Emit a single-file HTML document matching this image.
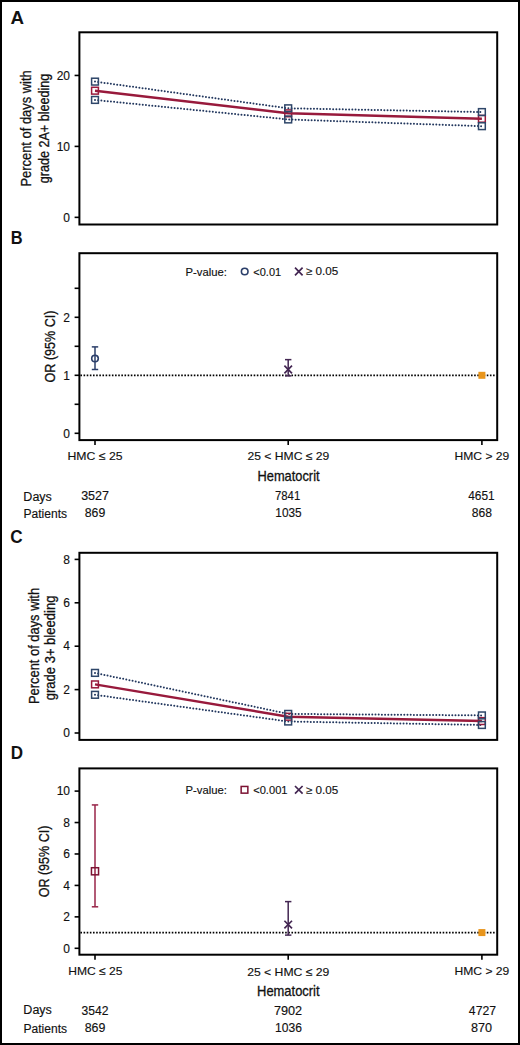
<!DOCTYPE html>
<html><head><meta charset="utf-8"><style>
html,body{margin:0;padding:0;background:#fff;overflow:hidden;width:520px;height:1045px;}
svg{display:block;font-family:"Liberation Sans", sans-serif;}
</style></head><body>
<svg width="520" height="1045" viewBox="0 0 520 1045">
<rect width="520" height="1045" fill="#fff"/>
<rect x="1" y="1" width="518" height="1043" fill="none" stroke="#000" stroke-width="2"/>
<rect x="79.4" y="32.3" width="417.80" height="192.20" fill="none" stroke="#000" stroke-width="2"/>
<rect x="79.4" y="253.2" width="417.80" height="186.90" fill="none" stroke="#000" stroke-width="2"/>
<rect x="79.4" y="552.8" width="417.80" height="187.10" fill="none" stroke="#000" stroke-width="2"/>
<rect x="79.4" y="768.4" width="417.80" height="186.30" fill="none" stroke="#000" stroke-width="2"/>
<line x1="74.6" x2="79.4" y1="217.35" y2="217.35" stroke="#000" stroke-width="1.6"/>
<line x1="74.6" x2="79.4" y1="146.40" y2="146.40" stroke="#000" stroke-width="1.6"/>
<line x1="74.6" x2="79.4" y1="75.45" y2="75.45" stroke="#000" stroke-width="1.6"/>
<line x1="74.6" x2="79.4" y1="433.30" y2="433.30" stroke="#000" stroke-width="1.6"/>
<line x1="74.6" x2="79.4" y1="375.30" y2="375.30" stroke="#000" stroke-width="1.6"/>
<line x1="74.6" x2="79.4" y1="317.30" y2="317.30" stroke="#000" stroke-width="1.6"/>
<line x1="74.6" x2="79.4" y1="404.30" y2="404.30" stroke="#000" stroke-width="1.6"/>
<line x1="74.6" x2="79.4" y1="346.30" y2="346.30" stroke="#000" stroke-width="1.6"/>
<line x1="74.6" x2="79.4" y1="288.30" y2="288.30" stroke="#000" stroke-width="1.6"/>
<line x1="74.6" x2="79.4" y1="733.00" y2="733.00" stroke="#000" stroke-width="1.6"/>
<line x1="74.6" x2="79.4" y1="689.60" y2="689.60" stroke="#000" stroke-width="1.6"/>
<line x1="74.6" x2="79.4" y1="646.20" y2="646.20" stroke="#000" stroke-width="1.6"/>
<line x1="74.6" x2="79.4" y1="602.80" y2="602.80" stroke="#000" stroke-width="1.6"/>
<line x1="74.6" x2="79.4" y1="559.40" y2="559.40" stroke="#000" stroke-width="1.6"/>
<line x1="74.6" x2="79.4" y1="948.30" y2="948.30" stroke="#000" stroke-width="1.6"/>
<line x1="74.6" x2="79.4" y1="916.86" y2="916.86" stroke="#000" stroke-width="1.6"/>
<line x1="74.6" x2="79.4" y1="885.42" y2="885.42" stroke="#000" stroke-width="1.6"/>
<line x1="74.6" x2="79.4" y1="853.98" y2="853.98" stroke="#000" stroke-width="1.6"/>
<line x1="74.6" x2="79.4" y1="822.54" y2="822.54" stroke="#000" stroke-width="1.6"/>
<line x1="74.6" x2="79.4" y1="791.10" y2="791.10" stroke="#000" stroke-width="1.6"/>
<line x1="95.0" x2="95.0" y1="440.1" y2="445.10" stroke="#000" stroke-width="1.6"/>
<line x1="288.2" x2="288.2" y1="440.1" y2="445.10" stroke="#000" stroke-width="1.6"/>
<line x1="481.9" x2="481.9" y1="440.1" y2="445.10" stroke="#000" stroke-width="1.6"/>
<line x1="95.0" x2="95.0" y1="954.7" y2="959.70" stroke="#000" stroke-width="1.6"/>
<line x1="288.2" x2="288.2" y1="954.7" y2="959.70" stroke="#000" stroke-width="1.6"/>
<line x1="481.9" x2="481.9" y1="954.7" y2="959.70" stroke="#000" stroke-width="1.6"/>
<polyline points="95.00,81.62 288.20,108.30 481.90,112.06" fill="none" stroke="#22375e" stroke-width="2.0" stroke-linecap="round" stroke-dasharray="0 3.2"/>
<polyline points="95.00,99.93 288.20,119.44 481.90,126.18" fill="none" stroke="#22375e" stroke-width="2.0" stroke-linecap="round" stroke-dasharray="0 3.2"/>
<polyline points="95.00,90.70 288.20,113.34 481.90,118.80" fill="none" stroke="#981a3c" stroke-width="2.5"/>
<rect x="91.60" y="87.30" width="6.8" height="6.8" fill="none" stroke="#981a3c" stroke-width="1.5"/>
<rect x="284.80" y="109.94" width="6.8" height="6.8" fill="none" stroke="#981a3c" stroke-width="1.5"/>
<rect x="478.50" y="115.40" width="6.8" height="6.8" fill="none" stroke="#981a3c" stroke-width="1.5"/>
<rect x="91.60" y="78.22" width="6.8" height="6.8" fill="none" stroke="#2e4669" stroke-width="1.5"/>
<rect x="284.80" y="104.90" width="6.8" height="6.8" fill="none" stroke="#2e4669" stroke-width="1.5"/>
<rect x="478.50" y="108.66" width="6.8" height="6.8" fill="none" stroke="#2e4669" stroke-width="1.5"/>
<rect x="91.60" y="96.53" width="6.8" height="6.8" fill="none" stroke="#2e4669" stroke-width="1.5"/>
<rect x="284.80" y="116.04" width="6.8" height="6.8" fill="none" stroke="#2e4669" stroke-width="1.5"/>
<rect x="478.50" y="122.78" width="6.8" height="6.8" fill="none" stroke="#2e4669" stroke-width="1.5"/>
<polyline points="95.00,672.89 288.20,713.90 481.90,715.42" fill="none" stroke="#22375e" stroke-width="2.0" stroke-linecap="round" stroke-dasharray="0 3.2"/>
<polyline points="95.00,694.81 288.20,721.50 481.90,724.97" fill="none" stroke="#22375e" stroke-width="2.0" stroke-linecap="round" stroke-dasharray="0 3.2"/>
<polyline points="95.00,684.39 288.20,716.73 481.90,721.07" fill="none" stroke="#981a3c" stroke-width="2.5"/>
<rect x="91.60" y="680.99" width="6.8" height="6.8" fill="none" stroke="#981a3c" stroke-width="1.5"/>
<rect x="284.80" y="713.33" width="6.8" height="6.8" fill="none" stroke="#981a3c" stroke-width="1.5"/>
<rect x="478.50" y="717.67" width="6.8" height="6.8" fill="none" stroke="#981a3c" stroke-width="1.5"/>
<rect x="91.60" y="669.49" width="6.8" height="6.8" fill="none" stroke="#2e4669" stroke-width="1.5"/>
<rect x="284.80" y="710.50" width="6.8" height="6.8" fill="none" stroke="#2e4669" stroke-width="1.5"/>
<rect x="478.50" y="712.02" width="6.8" height="6.8" fill="none" stroke="#2e4669" stroke-width="1.5"/>
<rect x="91.60" y="691.41" width="6.8" height="6.8" fill="none" stroke="#2e4669" stroke-width="1.5"/>
<rect x="284.80" y="718.10" width="6.8" height="6.8" fill="none" stroke="#2e4669" stroke-width="1.5"/>
<rect x="478.50" y="721.57" width="6.8" height="6.8" fill="none" stroke="#2e4669" stroke-width="1.5"/>
<line x1="80.4" x2="496.2" y1="375.30" y2="375.30" stroke="#000" stroke-width="1.8" stroke-dasharray="1.6 1.55"/>
<line x1="95.0" x2="95.0" y1="369.50" y2="346.88" stroke="#2b3f6a" stroke-width="1.5"/>
<line x1="91.80" x2="98.20" y1="369.50" y2="369.50" stroke="#2b3f6a" stroke-width="1.5"/>
<line x1="91.80" x2="98.20" y1="346.88" y2="346.88" stroke="#2b3f6a" stroke-width="1.5"/>
<circle cx="95.0" cy="358.48" r="3.3" fill="none" stroke="#2b3f6a" stroke-width="1.6"/>
<line x1="288.2" x2="288.2" y1="375.88" y2="359.64" stroke="#432652" stroke-width="1.5"/>
<line x1="285.00" x2="291.40" y1="375.88" y2="375.88" stroke="#432652" stroke-width="1.5"/>
<line x1="285.00" x2="291.40" y1="359.64" y2="359.64" stroke="#432652" stroke-width="1.5"/>
<path d="M284.40,365.70L292.00,373.30M292.00,365.70L284.40,373.30" stroke="#432652" stroke-width="1.7" fill="none"/>
<rect x="478.40" y="371.80" width="7.0" height="7.0" fill="#e8951c"/>
<circle cx="244.7" cy="271.50" r="3.3" fill="none" stroke="#2b3f6a" stroke-width="1.6"/>
<path d="M295.00,267.70L302.60,275.30M302.60,267.70L295.00,275.30" stroke="#432652" stroke-width="1.7" fill="none"/>
<line x1="80.4" x2="496.2" y1="932.58" y2="932.58" stroke="#000" stroke-width="1.8" stroke-dasharray="1.6 1.55"/>
<line x1="95.0" x2="95.0" y1="906.80" y2="804.93" stroke="#982448" stroke-width="1.5"/>
<line x1="91.80" x2="98.20" y1="906.80" y2="906.80" stroke="#982448" stroke-width="1.5"/>
<line x1="91.80" x2="98.20" y1="804.93" y2="804.93" stroke="#982448" stroke-width="1.5"/>
<rect x="91.45" y="867.72" width="7.1" height="7.1" fill="none" stroke="#7c1232" stroke-width="1.5"/>
<line x1="288.2" x2="288.2" y1="935.10" y2="901.61" stroke="#432652" stroke-width="1.5"/>
<line x1="285.00" x2="291.40" y1="935.10" y2="935.10" stroke="#432652" stroke-width="1.5"/>
<line x1="285.00" x2="291.40" y1="901.61" y2="901.61" stroke="#432652" stroke-width="1.5"/>
<path d="M284.40,920.76L292.00,928.36M292.00,920.76L284.40,928.36" stroke="#432652" stroke-width="1.7" fill="none"/>
<rect x="478.40" y="929.08" width="7.0" height="7.0" fill="#e8951c"/>
<rect x="241.15" y="786.45" width="6.699999999999999" height="6.699999999999999" fill="none" stroke="#7c1232" stroke-width="1.5"/>
<path d="M295.00,786.00L302.60,793.60M302.60,786.00L295.00,793.60" stroke="#432652" stroke-width="1.7" fill="none"/>
<text x="10.41" y="23.75" font-size="17.50" font-weight="bold" text-anchor="start" fill="#111" textLength="13.53" lengthAdjust="spacingAndGlyphs">A</text>
<text x="10.79" y="244.35" font-size="17.50" font-weight="bold" text-anchor="start" fill="#111" textLength="11.85" lengthAdjust="spacingAndGlyphs">B</text>
<text x="10.26" y="543.25" font-size="17.50" font-weight="bold" text-anchor="start" fill="#111" textLength="12.39" lengthAdjust="spacingAndGlyphs">C</text>
<text x="10.86" y="759.47" font-size="17.50" font-weight="bold" text-anchor="start" fill="#111" textLength="12.31" lengthAdjust="spacingAndGlyphs">D</text>
<text x="70.00" y="221.55" font-size="12.00" font-weight="normal" text-anchor="end" fill="#111" stroke="#111" stroke-width="0.14">0</text>
<text x="70.00" y="150.60" font-size="12.00" font-weight="normal" text-anchor="end" fill="#111" stroke="#111" stroke-width="0.14">10</text>
<text x="70.00" y="79.65" font-size="12.00" font-weight="normal" text-anchor="end" fill="#111" stroke="#111" stroke-width="0.14">20</text>
<text x="70.00" y="437.50" font-size="12.00" font-weight="normal" text-anchor="end" fill="#111" stroke="#111" stroke-width="0.14">0</text>
<text x="70.00" y="379.50" font-size="12.00" font-weight="normal" text-anchor="end" fill="#111" stroke="#111" stroke-width="0.14">1</text>
<text x="70.00" y="321.50" font-size="12.00" font-weight="normal" text-anchor="end" fill="#111" stroke="#111" stroke-width="0.14">2</text>
<text x="70.00" y="737.20" font-size="12.00" font-weight="normal" text-anchor="end" fill="#111" stroke="#111" stroke-width="0.14">0</text>
<text x="70.00" y="693.80" font-size="12.00" font-weight="normal" text-anchor="end" fill="#111" stroke="#111" stroke-width="0.14">2</text>
<text x="70.00" y="650.40" font-size="12.00" font-weight="normal" text-anchor="end" fill="#111" stroke="#111" stroke-width="0.14">4</text>
<text x="70.00" y="607.00" font-size="12.00" font-weight="normal" text-anchor="end" fill="#111" stroke="#111" stroke-width="0.14">6</text>
<text x="70.00" y="563.60" font-size="12.00" font-weight="normal" text-anchor="end" fill="#111" stroke="#111" stroke-width="0.14">8</text>
<text x="70.00" y="952.50" font-size="12.00" font-weight="normal" text-anchor="end" fill="#111" stroke="#111" stroke-width="0.14">0</text>
<text x="70.00" y="921.06" font-size="12.00" font-weight="normal" text-anchor="end" fill="#111" stroke="#111" stroke-width="0.14">2</text>
<text x="70.00" y="889.62" font-size="12.00" font-weight="normal" text-anchor="end" fill="#111" stroke="#111" stroke-width="0.14">4</text>
<text x="70.00" y="858.18" font-size="12.00" font-weight="normal" text-anchor="end" fill="#111" stroke="#111" stroke-width="0.14">6</text>
<text x="70.00" y="826.74" font-size="12.00" font-weight="normal" text-anchor="end" fill="#111" stroke="#111" stroke-width="0.14">8</text>
<text x="70.00" y="795.30" font-size="12.00" font-weight="normal" text-anchor="end" fill="#111" stroke="#111" stroke-width="0.14">10</text>
<text transform="translate(31.48,128.42) rotate(-90)" x="0" y="0" font-size="14.50" font-weight="normal" text-anchor="middle" fill="#111" stroke="#111" stroke-width="0.3" textLength="116.33" lengthAdjust="spacingAndGlyphs">Percent of days with</text>
<text transform="translate(48.80,128.53) rotate(-90)" x="0" y="0" font-size="14.50" font-weight="normal" text-anchor="middle" fill="#111" stroke="#111" stroke-width="0.3" textLength="109.50" lengthAdjust="spacingAndGlyphs">grade 2A+ bleeding</text>
<text transform="translate(38.54,645.97) rotate(-90)" x="0" y="0" font-size="14.50" font-weight="normal" text-anchor="middle" fill="#111" stroke="#111" stroke-width="0.3" textLength="116.03" lengthAdjust="spacingAndGlyphs">Percent of days with</text>
<text transform="translate(55.20,647.96) rotate(-90)" x="0" y="0" font-size="14.50" font-weight="normal" text-anchor="middle" fill="#111" stroke="#111" stroke-width="0.3" textLength="104.71" lengthAdjust="spacingAndGlyphs">grade 3+ bleeding</text>
<text transform="translate(55.24,346.52) rotate(-90)" x="0" y="0" font-size="14.50" font-weight="normal" text-anchor="middle" fill="#111" stroke="#111" stroke-width="0.3" textLength="71.74" lengthAdjust="spacingAndGlyphs">OR (95% CI)</text>
<text transform="translate(49.42,861.49) rotate(-90)" x="0" y="0" font-size="14.50" font-weight="normal" text-anchor="middle" fill="#111" stroke="#111" stroke-width="0.3" textLength="71.65" lengthAdjust="spacingAndGlyphs">OR (95% CI)</text>
<text x="95.00" y="460.00" font-size="11.50" font-weight="normal" text-anchor="middle" fill="#111" stroke="#111" stroke-width="0.14" textLength="55.00" lengthAdjust="spacingAndGlyphs">HMC ≤ 25</text>
<text x="288.43" y="460.07" font-size="11.50" font-weight="normal" text-anchor="middle" fill="#111" stroke="#111" stroke-width="0.14" textLength="81.90" lengthAdjust="spacingAndGlyphs">25 &lt; HMC ≤ 29</text>
<text x="481.89" y="460.07" font-size="11.50" font-weight="normal" text-anchor="middle" fill="#111" stroke="#111" stroke-width="0.14" textLength="54.77" lengthAdjust="spacingAndGlyphs">HMC &gt; 29</text>
<text x="288.55" y="481.25" font-size="14.50" font-weight="normal" text-anchor="middle" fill="#111" stroke="#111" stroke-width="0.3" textLength="62.00" lengthAdjust="spacingAndGlyphs">Hematocrit</text>
<text x="23.35" y="500.86" font-size="12.00" font-weight="normal" text-anchor="start" fill="#111" stroke="#111" stroke-width="0.14" textLength="28.52" lengthAdjust="spacingAndGlyphs">Days</text>
<text x="23.48" y="517.78" font-size="12.00" font-weight="normal" text-anchor="start" fill="#111" stroke="#111" stroke-width="0.14" textLength="43.57" lengthAdjust="spacingAndGlyphs">Patients</text>
<text x="95.34" y="974.50" font-size="11.50" font-weight="normal" text-anchor="middle" fill="#111" stroke="#111" stroke-width="0.14" textLength="54.28" lengthAdjust="spacingAndGlyphs">HMC ≤ 25</text>
<text x="288.29" y="975.69" font-size="11.50" font-weight="normal" text-anchor="middle" fill="#111" stroke="#111" stroke-width="0.14" textLength="82.24" lengthAdjust="spacingAndGlyphs">25 &lt; HMC ≤ 29</text>
<text x="481.91" y="974.57" font-size="11.50" font-weight="normal" text-anchor="middle" fill="#111" stroke="#111" stroke-width="0.14" textLength="54.80" lengthAdjust="spacingAndGlyphs">HMC &gt; 29</text>
<text x="288.32" y="996.10" font-size="14.50" font-weight="normal" text-anchor="middle" fill="#111" stroke="#111" stroke-width="0.3" textLength="62.55" lengthAdjust="spacingAndGlyphs">Hematocrit</text>
<text x="23.35" y="1014.38" font-size="12.00" font-weight="normal" text-anchor="start" fill="#111" stroke="#111" stroke-width="0.14" textLength="28.52" lengthAdjust="spacingAndGlyphs">Days</text>
<text x="23.48" y="1032.63" font-size="12.00" font-weight="normal" text-anchor="start" fill="#111" stroke="#111" stroke-width="0.14" textLength="43.57" lengthAdjust="spacingAndGlyphs">Patients</text>
<text x="95.10" y="500.16" font-size="12.00" font-weight="normal" text-anchor="middle" fill="#111" stroke="#111" stroke-width="0.14" textLength="27.89" lengthAdjust="spacingAndGlyphs">3527</text>
<text x="287.61" y="500.16" font-size="12.00" font-weight="normal" text-anchor="middle" fill="#111" stroke="#111" stroke-width="0.14" textLength="25.25" lengthAdjust="spacingAndGlyphs">7841</text>
<text x="481.49" y="500.26" font-size="12.00" font-weight="normal" text-anchor="middle" fill="#111" stroke="#111" stroke-width="0.14" textLength="26.44" lengthAdjust="spacingAndGlyphs">4651</text>
<text x="94.98" y="517.43" font-size="12.00" font-weight="normal" text-anchor="middle" fill="#111" stroke="#111" stroke-width="0.14" textLength="20.50" lengthAdjust="spacingAndGlyphs">869</text>
<text x="288.50" y="517.15" font-size="12.00" font-weight="normal" text-anchor="middle" fill="#111" stroke="#111" stroke-width="0.14" textLength="26.32" lengthAdjust="spacingAndGlyphs">1035</text>
<text x="482.00" y="517.40" font-size="12.00" font-weight="normal" text-anchor="middle" fill="#111" stroke="#111" stroke-width="0.14" textLength="20.24" lengthAdjust="spacingAndGlyphs">868</text>
<text x="95.01" y="1014.56" font-size="12.00" font-weight="normal" text-anchor="middle" fill="#111" stroke="#111" stroke-width="0.14" textLength="26.97" lengthAdjust="spacingAndGlyphs">3542</text>
<text x="288.03" y="1014.70" font-size="12.00" font-weight="normal" text-anchor="middle" fill="#111" stroke="#111" stroke-width="0.14" textLength="28.24" lengthAdjust="spacingAndGlyphs">7902</text>
<text x="482.50" y="1014.56" font-size="12.00" font-weight="normal" text-anchor="middle" fill="#111" stroke="#111" stroke-width="0.14" textLength="27.22" lengthAdjust="spacingAndGlyphs">4727</text>
<text x="95.07" y="1032.10" font-size="12.00" font-weight="normal" text-anchor="middle" fill="#111" stroke="#111" stroke-width="0.14" textLength="20.69" lengthAdjust="spacingAndGlyphs">869</text>
<text x="288.46" y="1031.61" font-size="12.00" font-weight="normal" text-anchor="middle" fill="#111" stroke="#111" stroke-width="0.14" textLength="26.88" lengthAdjust="spacingAndGlyphs">1036</text>
<text x="481.55" y="1032.10" font-size="12.00" font-weight="normal" text-anchor="middle" fill="#111" stroke="#111" stroke-width="0.14" textLength="21.09" lengthAdjust="spacingAndGlyphs">870</text>
<text x="185.59" y="275.65" font-size="11.00" font-weight="normal" text-anchor="start" fill="#111" stroke="#111" stroke-width="0.14" textLength="41.35" lengthAdjust="spacingAndGlyphs">P-value:</text>
<text x="253.31" y="275.72" font-size="11.00" font-weight="normal" text-anchor="start" fill="#111" stroke="#111" stroke-width="0.14" textLength="27.82" lengthAdjust="spacingAndGlyphs">&lt;0.01</text>
<text x="305.80" y="275.44" font-size="11.00" font-weight="normal" text-anchor="start" fill="#111" stroke="#111" stroke-width="0.14" textLength="32.39" lengthAdjust="spacingAndGlyphs">≥ 0.05</text>
<text x="185.59" y="793.54" font-size="11.00" font-weight="normal" text-anchor="start" fill="#111" stroke="#111" stroke-width="0.14" textLength="41.35" lengthAdjust="spacingAndGlyphs">P-value:</text>
<text x="253.21" y="793.54" font-size="11.00" font-weight="normal" text-anchor="start" fill="#111" stroke="#111" stroke-width="0.14" textLength="34.29" lengthAdjust="spacingAndGlyphs">&lt;0.001</text>
<text x="305.80" y="794.03" font-size="11.00" font-weight="normal" text-anchor="start" fill="#111" stroke="#111" stroke-width="0.14" textLength="32.39" lengthAdjust="spacingAndGlyphs">≥ 0.05</text>
</svg>
</body></html>
